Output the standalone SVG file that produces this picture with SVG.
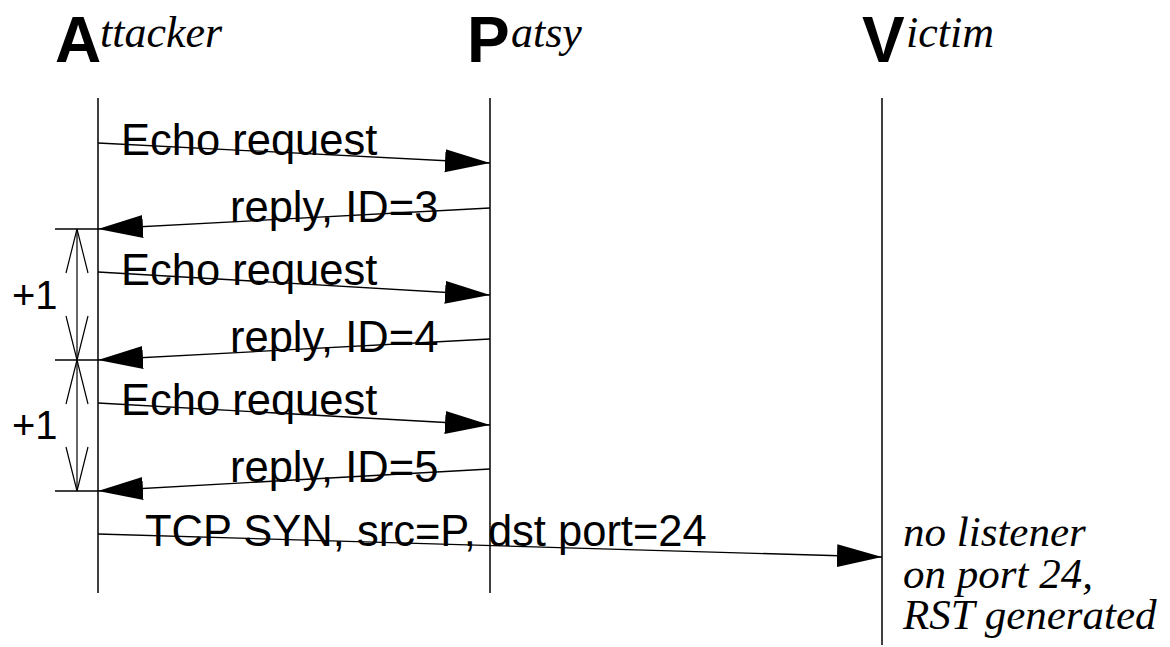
<svg xmlns="http://www.w3.org/2000/svg" width="1170" height="647" viewBox="0 0 1170 647">
<style>
.big{font-family:"Liberation Sans",Arial,sans-serif;font-weight:bold;font-size:64px;fill:#000}
.it{font-family:"Liberation Serif","Times New Roman",serif;font-style:italic;font-size:44px;fill:#000}
.lbl{font-family:"Liberation Sans",Arial,sans-serif;font-size:43.5px;fill:#000}
.vit{font-family:"Liberation Serif","Times New Roman",serif;font-style:italic;font-size:43px;fill:#000}
.life{stroke:#000;stroke-width:1.5;fill:none}
.msg{stroke:#000;stroke-width:1.3;fill:none;marker-end:url(#ah)}
.tick{stroke:#000;stroke-width:1.5;fill:none}
.dim{stroke:#000;stroke-width:1.2;fill:none}
</style>
<defs>
<marker id="ah" markerUnits="userSpaceOnUse" markerWidth="46" markerHeight="24" refX="45" refY="11.5" orient="auto">
<path d="M0,0 L45,11.5 L0,23 Z" fill="#000"/>
</marker>
</defs>
<rect width="1170" height="647" fill="#fff"/>
<g id="attacker">
<text class="big" x="55" y="62">A</text><text class="it" x="100" y="47">ttacker</text>
<line class="life" x1="98" y1="98" x2="98" y2="593"/>
</g>
<g id="patsy">
<text class="big" x="467" y="62">P</text><text class="it" x="511" y="47">atsy</text>
<line class="life" x1="490" y1="98" x2="490" y2="593"/>
</g>
<g id="victim">
<text class="big" x="862" y="62">V</text><text class="it" x="906" y="47">ictim</text>
<line class="life" x1="882" y1="98" x2="882" y2="645"/>
<text class="vit" x="903" y="546">no listener</text>
<text class="vit" x="903" y="588">on port 24,</text>
<text class="vit" x="903" y="629">RST generated</text>
</g>
<g id="connectors">
<line class="msg" x1="98" y1="143" x2="490" y2="163"/>
<line class="msg" x1="490" y1="208" x2="98" y2="229"/>
<line class="msg" x1="98" y1="272" x2="490" y2="295"/>
<line class="msg" x1="490" y1="339" x2="98" y2="360"/>
<line class="msg" x1="98" y1="403" x2="490" y2="425"/>
<line class="msg" x1="490" y1="469" x2="98" y2="491"/>
<line class="msg" x1="98" y1="534" x2="882" y2="557"/>
</g>
<g id="labels">
<text class="lbl" x="121" y="155">Echo request</text>
<text class="lbl" x="230" y="222">reply, ID=3</text>
<text class="lbl" x="121" y="285">Echo request</text>
<text class="lbl" x="230" y="352">reply, ID=4</text>
<text class="lbl" x="121" y="415">Echo request</text>
<text class="lbl" x="230" y="482">reply, ID=5</text>
<text class="lbl" x="145" y="546">TCP SYN, src=P, dst port=24</text>
</g>
<g id="increments">
<line class="tick" x1="55" y1="229" x2="98" y2="229"/>
<line class="tick" x1="55" y1="360" x2="98" y2="360"/>
<line class="tick" x1="55" y1="491" x2="98" y2="491"/>
<line class="dim" x1="77" y1="229" x2="77" y2="491"/>
<path class="dim" d="M66,273 L77,229 L88,273 M66,316 L77,360 L88,316 M66,404 L77,360 L88,404 M66,447 L77,491 L88,447"/>
<text class="lbl" x="12" y="309" style="font-size:40px">+1</text>
<text class="lbl" x="12" y="439" style="font-size:40px">+1</text>
</g>
</svg>
